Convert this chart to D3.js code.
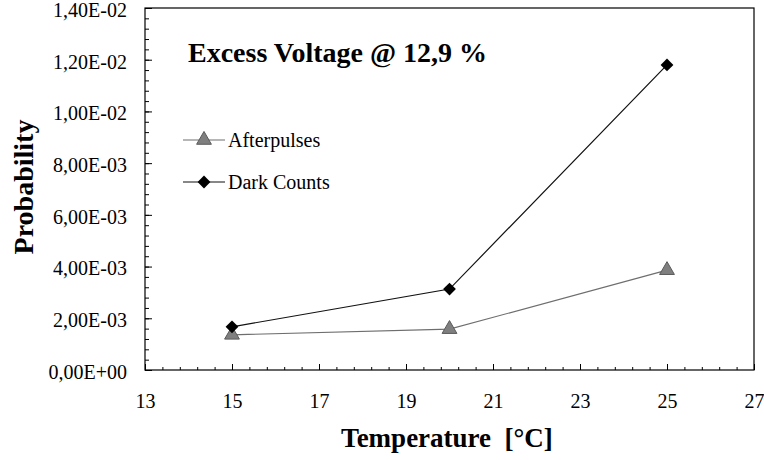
<!DOCTYPE html>
<html>
<head>
<meta charset="utf-8">
<script src="https://cdn.jsdelivr.net/npm/d3@7"></script>
<style>
  body { margin: 0; background: #fff; }
  svg { display: block; }
  text { font-family: "Liberation Serif", "Times New Roman", serif; fill: #000; }
</style>
</head>
<body>
<svg width="764" height="460"></svg>
<script>
// data
var temperatures = [15, 20, 25];
var afterpulses = [1.36e-3, 1.58e-3, 3.86e-3];
var darkCounts = [1.67e-3, 3.13e-3, 1.18e-2];
var xTicks = [13, 15, 17, 19, 21, 23, 25, 27];
var yTicks = [0, 2e-3, 4e-3, 6e-3, 8e-3, 1e-2, 1.2e-2, 1.4e-2];

var svg = d3.select("svg"),
    margin = {top: 8, right: 10, bottom: 90, left: 145},
    width = 764 - margin.left - margin.right,
    height = 460 - margin.top - margin.bottom;

var x = d3.scaleLinear().domain([13, 27]).range([0, width]);
var y = d3.scaleLinear().domain([0, 1.4e-2]).range([height, 0]);

// "1,40E-02" style labels
function sciFormat(d) {
  var parts = d.toExponential(2).split("e");
  var exp = +parts[1];
  var sign = exp < 0 ? "-" : "+";
  var e = Math.abs(exp);
  return parts[0].replace(".", ",") + "E" + sign + (e < 10 ? "0" + e : e);
}

var g = svg.append("g")
    .attr("transform", "translate(" + margin.left + "," + margin.top + ")");

// minor ticks (5 per interval on y, 5 per 2 units on x)
var yMinor = d3.range(0, 1.4e-2 + 1e-9, 0.4e-3);
var xMinor = d3.range(13, 27.0001, 0.4);

g.append("g")
    .attr("transform", "translate(0," + height + ")")
    .call(d3.axisBottom(x).tickValues(xMinor).tickSize(-3).tickFormat(""))
    .call(function(a) { a.select(".domain").remove(); });

g.append("g")
    .call(d3.axisLeft(y).tickValues(yMinor).tickSize(-4).tickFormat(""))
    .call(function(a) { a.select(".domain").remove(); });

var xAxis = g.append("g")
    .attr("transform", "translate(0," + height + ")")
    .call(d3.axisBottom(x).tickValues(xTicks).tickSize(-6).tickPadding(24).tickFormat(d3.format("d")));
xAxis.select(".domain").remove();
xAxis.selectAll("text").attr("font-size", 20);

var yAxis = g.append("g")
    .call(d3.axisLeft(y).tickValues(yTicks).tickSize(-7).tickPadding(18).tickFormat(sciFormat));
yAxis.select(".domain").remove();
yAxis.selectAll("text").attr("font-size", 20).attr("dy", "0.42em");

svg.selectAll(".tick line").attr("stroke", "#000");

// frame
g.append("rect")
    .attr("width", width)
    .attr("height", height)
    .attr("fill", "none")
    .attr("stroke", "#000")
    .attr("stroke-width", 1.2);

var line = d3.line()
    .x(function(d) { return x(d[0]); })
    .y(function(d) { return y(d[1]); });

var apData = d3.zip(temperatures, afterpulses);
var dcData = d3.zip(temperatures, darkCounts);

g.append("path").datum(apData)
    .attr("d", line).attr("fill", "none")
    .attr("stroke", "#6e6e6e").attr("stroke-width", 1.2);

g.append("path").datum(dcData)
    .attr("d", line).attr("fill", "none")
    .attr("stroke", "#111").attr("stroke-width", 1.2);

var tri = d3.symbol().type(d3.symbolTriangle).size(95);
var dia = d3.symbol().type(d3.symbolSquare).size(82); // rotated 45deg below

g.selectAll(".ap").data(apData).enter().append("path")
    .attr("class", "ap")
    .attr("d", tri)
    .attr("transform", function(d) { return "translate(" + x(d[0]) + "," + y(d[1]) + ")"; })
    .attr("fill", "#7f7f7f").attr("stroke", "#5a5a5a");

g.selectAll(".dc").data(dcData).enter().append("path")
    .attr("class", "dc")
    .attr("d", dia)
    .attr("transform", function(d) { return "translate(" + x(d[0]) + "," + y(d[1]) + ") rotate(45)"; })
    .attr("fill", "#000");

// title
svg.append("text")
    .attr("x", 188).attr("y", 62)
    .attr("font-size", 28).attr("font-weight", "bold")
    .text("Excess Voltage @ 12,9 %");

// legend
var legend = [
  {name: "Afterpulses", y: 140, sym: tri, rot: 0, fill: "#7f7f7f", stroke: "#5a5a5a", line: "#6e6e6e"},
  {name: "Dark Counts", y: 182, sym: dia, rot: 45, fill: "#000", stroke: "none", line: "#111"}
];
var lg = svg.selectAll(".legend").data(legend).enter().append("g")
    .attr("transform", function(d) { return "translate(183," + d.y + ")"; });
lg.append("line").attr("x1", 0).attr("x2", 42)
    .attr("stroke", function(d) { return d.line; }).attr("stroke-width", 1.2);
lg.append("path").attr("d", function(d) { return d.sym(); })
    .attr("transform", function(d) { return "translate(21,0) rotate(" + d.rot + ")"; })
    .attr("fill", function(d) { return d.fill; })
    .attr("stroke", function(d) { return d.stroke; });
lg.append("text").attr("x", 45).attr("y", 7)
    .attr("font-size", 20)
    .text(function(d) { return d.name; });

// axis titles
svg.append("text")
    .attr("transform", "translate(33,187) rotate(-90)")
    .attr("text-anchor", "middle")
    .attr("font-size", 28).attr("font-weight", "bold")
    .text("Probability");

svg.append("text")
    .attr("x", 447).attr("y", 447)
    .attr("text-anchor", "middle")
    .attr("font-size", 27).attr("font-weight", "bold")
    .style("white-space", "pre")
    .text("Temperature  [°C]");
</script>
</body>
</html>
